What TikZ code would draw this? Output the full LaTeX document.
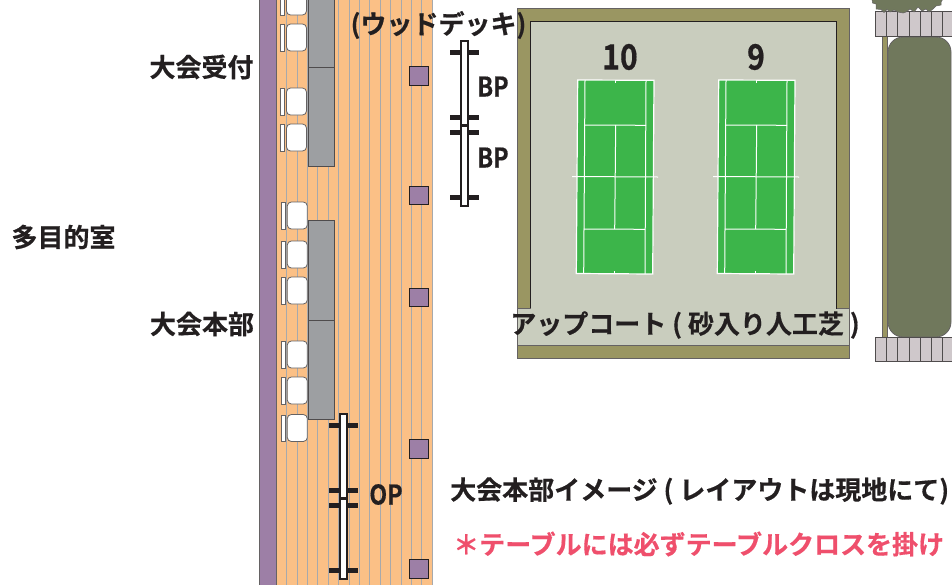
\documentclass[tikz,border=0pt]{standalone}
\usepackage{fontspec}
\setmainfont[FakeBold=0.5]{Noto Sans CJK JP Bold}
\newfontfamily\latinfont[FakeBold=0.5,FakeStretch=0.86]{Noto Sans CJK JP Bold}
\definecolor{wallpurple}{HTML}{9D7FA6}
\definecolor{floororange}{HTML}{FBC086}
\definecolor{floorline}{HTML}{A7A9AC}
\definecolor{tablegray}{HTML}{9D9FA2}
\definecolor{deckolive}{HTML}{9A9662}
\definecolor{upgray}{HTML}{C9CDBE}
\definecolor{turfgreen}{HTML}{3CB54A}
\definecolor{brickgray}{HTML}{CFC8CB}
\definecolor{plantgreen}{HTML}{70785C}
\definecolor{notepink}{HTML}{EF4F6C}
\definecolor{inkblack}{HTML}{231F20}
\tikzset{
  wall/.style={draw=inkblack!70,fill=wallpurple,line width=0.8pt},
  post/.style={draw=inkblack,fill=wallpurple,line width=0.8pt},
  tablebox/.style={draw=inkblack!80,fill=tablegray,line width=0.8pt},
  chairbox/.style={draw=inkblack!70,fill=white,line width=0.8pt,rounded corners=4pt},
  backbox/.style={draw=inkblack!70,fill=white,line width=0.8pt},
  deck/.style={draw=inkblack!70,fill=deckolive,line width=0.8pt},
  brick/.style={draw=inkblack!80,fill=brickgray,line width=0.8pt},
  netbar/.style={draw=inkblack,line width=5pt},
  netpole/.style={draw=inkblack,fill=white,line width=2.2pt},
  courtline/.style={draw=white,line width=1pt},
  biglabel/.style={text=inkblack,font=\fontsize{26}{26}\selectfont,inner sep=0pt},
  latinlabel/.style={text=inkblack,font=\latinfont\fontsize{27}{27}\selectfont,inner sep=0pt},
  numlabel/.style={text=inkblack,font=\latinfont\fontsize{35}{35}\selectfont,inner sep=0pt},
}
\newcommand{\chairrow}[2]{%
  \filldraw [backbox] (#1-6,#2+0.5) rectangle (#1-1.7,#2+27);
  \filldraw [chairbox] (#1,#2) rectangle (#1+20,#2+27);
}
\newcommand{\netpair}[2]{% x, top y
  \draw [netbar] (#1-14.5,#2+11) -- (#1+14.5,#2+11);
  \draw [netbar] (#1-14.5,#2+76.5) -- (#1+14.5,#2+76.5);
  \draw [netbar] (#1-14.5,#2+91) -- (#1+14.5,#2+91);
  \draw [netbar] (#1-14.5,#2+156.5) -- (#1+14.5,#2+156.5);
  \filldraw [netpole] (#1-3.5,#2) rectangle (#1+3.5,#2+84.5);
  \filldraw [netpole] (#1-3.5,#2+85) rectangle (#1+3.5,#2+165);
}
\begin{document}
\begin{tikzpicture}[x=1pt,y=-1pt]
    \useasboundingbox (0,0) rectangle (952,584);
    \filldraw [fill=white,draw=none] (0,0) rectangle (952,584);
    % floor
    \filldraw [draw=none,fill=floororange] (276,-2) rectangle (433,586);
    \foreach \xline in {286.7,297.1,...,433} {
        \draw [floorline,line width=1.1pt] (\xline,-2) -- (\xline,586);
    }
    \filldraw [wall] (259.5,-2) rectangle (276,586);
    % tables and chairs
    \filldraw [tablebox] (308.5,-2) rectangle (334.5,67);
    \filldraw [tablebox] (308.5,67) rectangle (334.5,166.5);
    \filldraw [tablebox] (308.5,220) rectangle (334.5,320);
    \filldraw [tablebox] (308.5,320) rectangle (334.5,419.5);
    \foreach \ychair in {-12,24,88,124} {
        \chairrow{286.5}{\ychair}
    }
    \foreach \ychair in {202,241,277,341,377,414.5} {
        \chairrow{287.3}{\ychair}
    }
    \foreach \ypost in {66.5,186,288,439.5,559.5} {
        \filldraw [post] (409.5,\ypost) rectangle (428,\ypost+18.5);
    }
    % nets
    \netpair{464.5}{41}
    \netpair{343.7}{414}
    % up court
    \filldraw [deck] (517.5,8.5) rectangle (849,358);
    \filldraw [draw=none,fill=upgray] (517.5,308.5) rectangle (849,345);
    \filldraw [draw=inkblack,line width=0.8pt,fill=upgray] (530.5,308.5) -- (530.5,21.5) -- (836.5,21.5) -- (836.5,308.5);
    \draw [inkblack!70,line width=0.8pt] (517.5,345) -- (849,345);
    \draw [inkblack!70,line width=0.8pt] (517.5,308.5) -- (530.5,308.5) (836.5,308.5) -- (849,308.5);
    \foreach \xcourt in {0,141} {
        \begin{scope}[xshift=\xcourt]
        \filldraw [draw=none,fill=turfgreen] (577.7,80) -- (654,80.3) -- (652.7,274) -- (576.3,273.5) -- cycle;
        \draw [courtline,line width=1.2pt] (577.7,80) -- (654,80.3) -- (652.7,274) -- (576.3,273.5) -- cycle;
        \draw [courtline] (585,80) -- (583.7,273.5);
        \draw [courtline] (646,80) -- (645,274);
        \draw [courtline] (585,125) -- (646,125.3);
        \draw [courtline] (583.7,229) -- (645,229.3);
        \draw [courtline] (615.7,125) -- (614.7,229);
        \draw [courtline] (615.7,80) -- (615.7,83);
        \draw [courtline] (614.6,271) -- (614.6,273.5);
        \draw [courtline] (572,176.5) -- (658,177);
        \end{scope}
    }
    % plants and bricks
    \filldraw [deck] (882.8,36) rectangle (887.8,338);
    \filldraw [draw=inkblack!70,line width=0.8pt,fill=plantgreen,rounded corners=15pt] (888,37) rectangle (951,337);
    \filldraw [brick] (875.5,11.7) rectangle (954,36.7);
    \filldraw [brick] (875.5,337.3) rectangle (954,361.5);
    \foreach \xbrick in {886.7,897.7,909,920,931.3,942.3} {
        \draw [inkblack!80,line width=0.8pt] (\xbrick,11.7) -- (\xbrick,36.7);
        \draw [inkblack!80,line width=0.8pt] (\xbrick,337.3) -- (\xbrick,361.5);
    }
    \filldraw [draw=inkblack!70,line width=0.5pt,fill=plantgreen] (872,-1) -- (872.5,3) -- (876,4) -- (876,9) -- (881,9.5) -- (884,12.5) -- (887,9.5) -- (890,12) -- (894,10) -- (898,12) -- (903,13) -- (906,12) -- (910,9) -- (914,12) -- (918,7) -- (922,11) -- (926,9) -- (929,12) -- (933,9) -- (936,6) -- (941,5) -- (941,2) -- (943,-1) -- cycle;
    % labels
    \node [biglabel,anchor=center] (reception) at (201.5,67) {大会受付};
    \node [biglabel,anchor=center] (multipurpose) at (63.5,237) {多目的室};
    \node [biglabel,anchor=center] (headquarters) at (202,324) {大会本部};
    \node [biglabel,anchor=center] (wooddeck) at (438.5,25) {(ウッドデッキ)};
    \node [biglabel,anchor=center] (upcourt) at (685,325) {アップコート ( 砂入り人工芝 )};
    \node [biglabel,anchor=west] (image) at (450,491) {大会本部イメージ ( レイアウトは現地にて)};
    \node [biglabel,anchor=west,text=notepink] (note) at (453,544) {＊テーブルには必ずテーブルクロスを掛け};
    \node [numlabel,anchor=center] (courtten) at (620,57) {10};
    \node [numlabel,anchor=center] (courtnine) at (756,57) {9};
    \node [latinlabel,anchor=center] (bpone) at (493,86.5) {BP};
    \node [latinlabel,anchor=center] (bptwo) at (493,157.5) {BP};
    \node [latinlabel,anchor=center] (opnet) at (386,494.5) {OP};
\end{tikzpicture}
\end{document}
